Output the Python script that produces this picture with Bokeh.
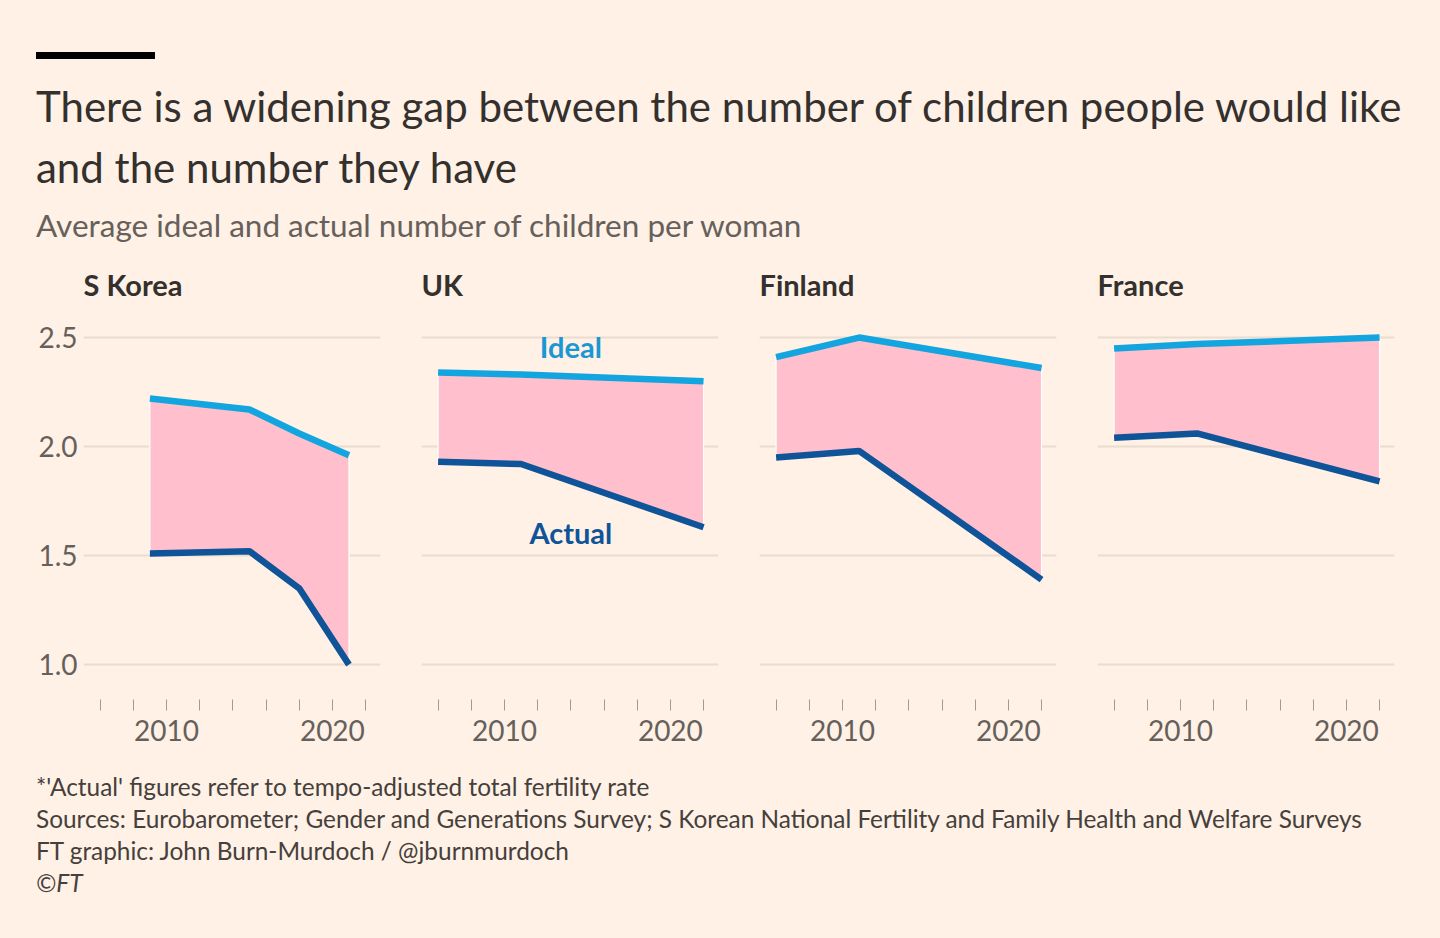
from bokeh.plotting import figure
from bokeh.layouts import column, row
from bokeh.models import Div, FixedTicker, Range1d
from bokeh.embed import file_html
from bokeh.resources import INLINE
from bokeh.core.properties import value

# ---------------- data ----------------
countries = ["S Korea", "UK", "Finland", "France"]

skorea_years = [2009, 2015, 2018, 2021]
skorea_ideal = [2.22, 2.17, 2.06, 1.96]
skorea_actual = [1.51, 1.52, 1.35, 1.00]

uk_years = [2006, 2011, 2022]
uk_ideal = [2.34, 2.33, 2.30]
uk_actual = [1.93, 1.92, 1.63]

finland_years = [2006, 2011, 2022]
finland_ideal = [2.41, 2.50, 2.36]
finland_actual = [1.95, 1.98, 1.39]

france_years = [2006, 2011, 2022]
france_ideal = [2.45, 2.47, 2.50]
france_actual = [2.04, 2.06, 1.84]

x_ticks = [2006, 2008, 2010, 2012, 2014, 2016, 2018, 2020, 2022]
x_tick_labels = {2010: "2010", 2020: "2020"}
y_ticks = [1.0, 1.5, 2.0, 2.5]

label_texts = ["Ideal", "Actual"]
label_x = [2014.0, 2014.0]
label_y = [2.46, 1.605]

title = "There is a widening gap between the number of children people would like<br>and the number they have"
subtitle = "Average ideal and actual number of children per woman"
footer_lines = [
    "*'Actual' figures refer to tempo-adjusted total fertility rate",
    "Sources: Eurobarometer; Gender and Generations Survey; S Korean National Fertility and Family Health and Welfare Surveys",
    "FT graphic: John Burn-Murdoch / @jburnmurdoch",
    "<i>©FT</i>",
]

series = [
    (skorea_years, skorea_ideal, skorea_actual),
    (uk_years, uk_ideal, uk_actual),
    (finland_years, finland_ideal, finland_actual),
    (france_years, france_ideal, france_actual),
]

# ---------------- style ----------------
BG = "#fff1e5"
FONT = "Lato"
IDEAL_C = "#12a5df"
ACTUAL_C = "#0f5499"
AREA_C = "#ffbfcc"
GRID_C = "#eadccf"
TEXT_C = "#33302e"
FOOT_C = "#45403c"
MUTED_C = "#66605c"

FRAME_W = 297
FRAME_H = 389

header = Div(
    text=(
        f'<div style="font-family:{FONT};margin:0;padding:52px 0 0 36px;">'
        f'<div style="width:119px;height:7px;background:#000;"></div>'
        f'<div style="margin-top:17px;font-size:42px;line-height:61px;color:{TEXT_C};white-space:nowrap;">{title}</div>'
        f'<div style="margin-top:8px;font-size:31.5px;line-height:38px;color:{MUTED_C};white-space:nowrap;">{subtitle}</div>'
        f'</div>'
    ),
    width=1440, height=250, margin=(0, 0, 0, 0),
    styles={"background": BG},
)

figs = []
for i, (name, (yrs, ideal, actual)) in enumerate(zip(countries, series)):
    left = 83 if i == 0 else 21
    right = 20
    p = figure(
        frame_width=FRAME_W, frame_height=FRAME_H,
        x_range=Range1d(2005.0, 2022.9), y_range=Range1d(0.84, 2.624),
        output_backend="svg", toolbar_location=None,
        min_border_left=left, min_border_right=right,
        min_border_top=60, min_border_bottom=61,
        background_fill_color=BG, border_fill_color=BG,
        outline_line_color=None, title=name,
    )
    p.title.text_font = FONT
    p.title.text_font_size = "29px"
    p.title.text_font_style = "bold"
    p.title.text_color = TEXT_C
    p.title.offset = 0
    p.title.standoff = 17

    xs = list(yrs) + list(yrs)[::-1]
    ys = list(ideal) + list(actual)[::-1]
    p.patch(xs, ys, fill_color=AREA_C, line_color="white", line_width=1.2)
    p.line(yrs, ideal, line_color=IDEAL_C, line_width=6.5)
    p.line(yrs, actual, line_color=ACTUAL_C, line_width=6.5)

    if i == 1:
        p.text(label_x[:1], label_y[:1], text=label_texts[:1], text_color="#1b97d4",
               text_font=value(FONT), text_font_size="29px", text_font_style="bold",
               text_align="center", text_baseline="middle")
        p.text(label_x[1:], label_y[1:], text=label_texts[1:], text_color=ACTUAL_C,
               text_font=value(FONT), text_font_size="29px", text_font_style="bold",
               text_align="center", text_baseline="middle")

    p.xaxis.ticker = FixedTicker(ticks=x_ticks)
    p.xaxis.major_label_overrides = {t: x_tick_labels.get(t, "") for t in x_ticks}
    p.xaxis.axis_line_color = None
    p.xaxis.major_tick_line_color = "#a09a95"
    p.xaxis.major_tick_in = 0
    p.xaxis.major_tick_out = 11
    p.xaxis.minor_tick_line_color = None
    p.xaxis.major_label_text_font = FONT
    p.xaxis.major_label_text_font_size = "28px"
    p.xaxis.major_label_text_color = MUTED_C
    p.xaxis.major_label_standoff = 9
    p.xgrid.grid_line_color = None

    p.yaxis.ticker = FixedTicker(ticks=y_ticks)
    p.yaxis.major_label_overrides = {t: f"{t:.1f}" for t in y_ticks}
    p.yaxis.axis_line_color = None
    p.yaxis.major_tick_line_color = None
    p.yaxis.minor_tick_line_color = None
    p.yaxis.major_label_text_font = FONT
    p.yaxis.major_label_text_font_size = "28px"
    p.yaxis.major_label_text_color = MUTED_C
    p.yaxis.major_label_standoff = 0
    p.ygrid.grid_line_color = GRID_C
    p.ygrid.grid_line_width = 2
    if i > 0:
        p.yaxis.visible = False
    figs.append(p)

footer = Div(
    text=(
        f'<div style="font-family:{FONT};padding:11px 0 0 36px;font-size:24.4px;line-height:32px;color:{FOOT_C};white-space:nowrap;">'
        + "<br>".join(footer_lines) + "</div>"
    ),
    width=1440, height=178, margin=(0, 0, 0, 0),
    styles={"background": BG},
)

layout = column(header, row(*figs, spacing=0), footer, spacing=0,
                styles={"background": BG})

html = file_html(layout, INLINE, title="fertility gap")
html = html.replace("<body>", f'<body style="background:{BG};margin:0;">', 1)
open("out.html", "w").write(html)
